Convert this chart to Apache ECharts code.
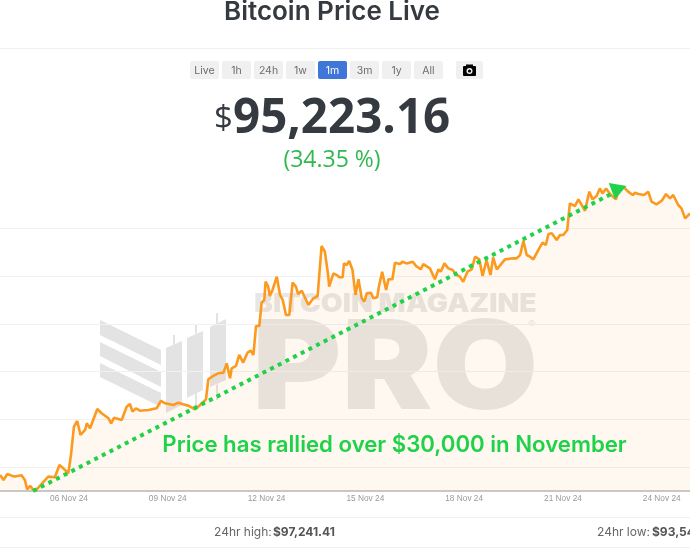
<!DOCTYPE html>
<html>
<head>
<meta charset="utf-8">
<title>Bitcoin Price Live</title>
<style>
html, body { margin: 0; padding: 0; background: #fff; }
#chartBox { width: 690px; height: 550px; }
</style>
<script src="https://cdn.jsdelivr.net/npm/echarts@6/dist/echarts.min.js"></script>
</head>
<body>
<div id="chartBox"></div>
<script>
// days of November 2024 (fractional) and BTC price
var priceDays = [3.91, 3.96, 4.01, 4.13, 4.26, 4.36, 4.56, 4.66, 4.73, 4.82, 4.92, 5.02, 5.17, 5.37, 5.57, 5.71, 5.83, 5.98, 6.06, 6.15, 6.25, 6.35, 6.49, 6.54, 6.64, 6.86, 6.99, 7.20, 7.28, 7.37, 7.60, 7.75, 7.85, 7.93, 8.03, 8.16, 8.41, 8.66, 8.79, 8.92, 9.17, 9.32, 9.47, 9.62, 9.83, 9.98, 10.16, 10.23, 10.38, 10.53, 10.69, 10.79, 10.89,
    10.94, 11.07, 11.17, 11.29, 11.42, 11.52, 11.60, 11.68, 11.78, 11.85, 11.93, 11.97, 12.05, 12.10, 12.18, 12.31, 12.41, 12.49, 12.59, 12.69, 12.79, 12.89, 12.96, 13.07, 13.27, 13.42, 13.55, 13.67, 13.77, 13.87, 13.90, 14.03, 14.13, 14.21, 14.31, 14.35, 14.43, 14.51, 14.61, 14.70, 14.79, 14.89, 14.97, 15.04, 15.17, 15.24, 15.36, 15.41, 15.51, 15.63, 15.70, 15.82, 15.90, 16.05, 16.12, 16.25, 16.44, 16.54, 16.68, 16.76, 16.96, 17.11, 17.22, 17.29, 17.40, 17.52, 17.65, 17.77,
    17.87, 17.97, 18.10, 18.23, 18.33, 18.46, 18.56, 18.68, 18.73, 18.80, 18.88, 18.99, 19.24, 19.49, 19.59, 19.70, 19.80, 19.90, 20.00, 20.10, 20.25, 20.38, 20.48, 20.56, 20.66, 20.81, 20.91, 21.01, 21.13, 21.21, 21.36, 21.47, 21.67, 21.80, 21.90, 22.02, 22.12, 22.20, 22.31, 22.43, 22.61, 22.68, 22.83, 22.98, 23.12, 23.19, 23.29, 23.34, 23.46, 23.59, 23.69, 23.84, 24.00, 24.13, 24.25, 24.35, 24.50, 24.60, 24.71, 24.86];
var priceValues = [69160, 69230, 68640, 69270, 69090, 68990, 69130, 68640, 67660, 68010, 67590, 67660, 68220, 68990, 68920, 70210, 69860, 69340, 71260, 74230, 74820, 73360, 73880, 74580, 74050, 76080, 75630, 75100, 74580, 75170, 74930, 76320, 76600, 75800, 76150, 75900, 75970, 76150, 76920, 76670, 76500, 76740, 76570, 76430, 76040, 76500, 77090, 79190, 79540, 79820, 79890, 80860, 79290,
    80340, 80590, 81740, 80940, 81980, 82190, 81740, 84780, 84780, 87220, 87500, 89420, 88900, 87920, 88550, 89950, 88030, 87500, 85930, 85930, 89320, 88900, 88130, 88480, 86980, 87680, 87920, 93160, 92570, 90120, 88900, 90300, 90120, 89880, 89880, 91350, 91170, 91590, 90650, 88030, 89670, 87680, 87330, 88200, 88270, 87680, 87780, 88900, 90470, 88550, 89670, 89670, 91410, 91270, 91520, 91340, 91520, 91060, 90720, 91270, 90820, 89670, 90720, 90470, 91340, 90820, 90650, 90120,
    89950, 89420, 90470, 90720, 92040, 91760, 90020, 91700, 91700, 90120, 91970, 90720, 91760, 91870, 91870, 92220, 93720, 92220, 92040, 91760, 92740, 93510, 93270, 94420, 94490, 93790, 94310, 94310, 94840, 97630, 97350, 98050, 96860, 98860, 98050, 98400, 99200, 98680, 99200, 98610, 98050, 98860, 99380, 98860, 98510, 98750, 98610, 98750, 98510, 98860, 97810, 97530, 97910, 98610, 98160, 98510, 97460, 97110, 96060, 96580];
var arrowDays = [4.91, 22.58];
var arrowPrices = [67480, 98820];
var arrowHead = [22.62, 98830];
var dayTicks = [6, 9, 12, 15, 18, 21, 24];
var priceTicks = [70000, 75000, 80000, 85000, 90000, 95000];
var ranges = ['Live', '1h', '24h', '1w', '1m', '3m', '1y', 'All'];
var activeRange = '1m';

var uiFont = 'Inter, sans-serif';
var priceFont = '"Open Sans", sans-serif';
var wm = '#3c3c3c';

function pad2(n) {
    return n < 10 ? '0' + n : '' + n;
}

function poly(points, opacity) {
    return {
        type: 'polygon',
        shape: {points: points},
        style: {fill: wm, opacity: opacity || 0.14},
        silent: true
    };
}

function hline(y) {
    return {
        type: 'line',
        shape: {x1: 0, y1: y, x2: 690, y2: y},
        style: {stroke: '#f1f1f1', lineWidth: 1},
        silent: true
    };
}

function buildGraphic() {
    var g = [];
    // page chrome
    g.push({type: 'text', x: 332, y: 12.5, style: {text: 'Bitcoin Price Live', font: '600 26px ' + uiFont, fill: '#343a40', textAlign: 'center', textVerticalAlign: 'middle'}});
    g.push(hline(48.5));
    g.push(hline(517.5));
    g.push(hline(547.5));

    // range buttons
    for (var i = 0; i < ranges.length; i++) {
        var bx = 190 + i * 32;
        var on = ranges[i] == activeRange;
        g.push({type: 'rect', shape: {x: bx, y: 61, width: 29, height: 18, r: 2}, style: {fill: on ? '#3f76d8' : '#f0f0f0'}});
        g.push({type: 'text', x: bx + 14.5, y: 70.5, style: {text: ranges[i], font: '400 10.5px ' + uiFont, fill: on ? '#fff' : '#6c6c6c', textAlign: 'center', textVerticalAlign: 'middle'}});
    }
    // camera button
    g.push({type: 'rect', shape: {x: 456, y: 61, width: 27, height: 18, r: 2}, style: {fill: '#f0f0f0'}});
    g.push({type: 'rect', shape: {x: 463, y: 66, width: 13, height: 10, r: 1}, style: {fill: '#000'}});
    g.push({type: 'rect', shape: {x: 466, y: 64.5, width: 7, height: 3}, style: {fill: '#000'}});
    g.push({type: 'circle', shape: {cx: 469.5, cy: 71, r: 3}, style: {fill: '#f0f0f0'}});
    g.push({type: 'circle', shape: {cx: 469.5, cy: 71, r: 1.6}, style: {fill: '#000'}});

    // headline price
    g.push({type: 'text', x: 214, y: 119.5, style: {text: '$', font: '400 33px ' + priceFont, fill: '#343a40', textVerticalAlign: 'middle'}});
    g.push({type: 'text', x: 233, y: 119.5, style: {text: '95,223.16', font: '700 47.5px ' + priceFont, fill: '#343a40', textVerticalAlign: 'middle'}});
    g.push({type: 'text', x: 332, y: 160, style: {text: '(34.35 %)', font: '400 23px ' + priceFont, fill: '#2fb84f', textAlign: 'center', textVerticalAlign: 'middle'}});

    // watermark
    g.push(poly([[100, 320], [161, 350], [161, 365], [100, 335]]));
    g.push(poly([[100, 342], [161, 372], [161, 387], [100, 356]]));
    g.push(poly([[100, 363], [161, 393], [161, 407], [100, 377]]));
    g.push(poly([[166, 348], [182, 341], [182, 405], [166, 413]]));
    g.push(poly([[173, 335], [175, 335], [175, 344], [173, 345]]));
    g.push(poly([[187, 338], [203, 331], [203, 390], [187, 398]]));
    g.push(poly([[195, 324], [197, 324], [197, 333], [195, 334]]));
    g.push(poly([[195, 394], [197, 393], [197, 405], [195, 405]]));
    g.push(poly([[210, 327], [226, 319], [226, 380], [210, 387]]));
    g.push(poly([[216, 313], [218, 313], [218, 323], [216, 324]]));
    g.push(poly([[216, 385], [218, 384], [218, 400], [216, 400]]));
    g.push({type: 'text', x: 254, y: 304, scaleX: 1.09, style: {text: 'BITCOIN MAGAZINE', font: '900 26px ' + uiFont, fill: wm, opacity: 0.12, textVerticalAlign: 'middle'}});
    g.push({type: 'text', x: 252, y: 372, scaleX: 1.1, style: {text: 'PRO', font: '900 124px ' + uiFont, fill: wm, opacity: 0.12, textVerticalAlign: 'middle'}});
    g.push({type: 'text', x: 528, y: 325, style: {text: '®', font: '400 11px ' + uiFont, fill: wm, opacity: 0.12, textVerticalAlign: 'middle'}});

    // annotation
    g.push({type: 'text', x: 394.5, y: 445, z: 20, style: {text: 'Price has rallied over $30,000 in November', font: '600 22.2px ' + uiFont, fill: '#1fd249', textAlign: 'center', textVerticalAlign: 'middle'}});

    // 24h stats
    g.push({type: 'text', x: 214, y: 532, style: {text: '24hr high: ', font: '400 12px ' + uiFont, fill: '#666', textVerticalAlign: 'middle'}});
    g.push({type: 'text', x: 273, y: 532, style: {text: '$97,241.41', font: '700 12px ' + uiFont, fill: '#555', textVerticalAlign: 'middle'}});
    g.push({type: 'text', x: 597, y: 532, style: {text: '24hr low: ', font: '400 12px ' + uiFont, fill: '#666', textVerticalAlign: 'middle'}});
    g.push({type: 'text', x: 652, y: 532, style: {text: '$93,54', font: '700 12px ' + uiFont, fill: '#555', textVerticalAlign: 'middle'}});
    return g;
}

var priceData = [];
for (var i = 0; i < priceDays.length; i++) {
    priceData.push([priceDays[i], priceValues[i]]);
}
var arrowData = [];
for (var j = 0; j < arrowDays.length; j++) {
    arrowData.push([arrowDays[j], arrowPrices[j]]);
}

var myChart = echarts.init(document.getElementById('chartBox'), null, {renderer: 'canvas'});
var option = {
    animation: false,
    graphic: {elements: buildGraphic()},
    grid: {left: 0, right: 0, top: 170, bottom: 59},
    xAxis: {
        type: 'value',
        min: 3.905,
        max: 24.858,
        axisLine: {onZero: false, lineStyle: {color: '#c9c9c9', width: 2}},
        axisTick: {show: false, customValues: dayTicks},
        splitLine: {show: false},
        axisLabel: {
            customValues: dayTicks,
            color: '#999999',
            fontFamily: 'Liberation Sans',
            fontSize: 8.3,
            margin: 4,
            formatter: function (v) {
                return pad2(v) + ' Nov 24';
            }
        }
    },
    yAxis: {
        type: 'value',
        min: 67480,
        max: 101130,
        axisLine: {show: false},
        axisTick: {show: false, customValues: priceTicks},
        axisLabel: {show: false, customValues: priceTicks},
        splitLine: {show: true, lineStyle: {color: '#f1f1f1', width: 1}}
    },
    series: [
        {
            name: 'Price',
            type: 'line',
            data: priceData,
            showSymbol: false,
            symbol: 'none',
            lineStyle: {color: '#fb9a1e', width: 2.6},
            areaStyle: {color: 'rgba(247,150,20,0.09)'},
            z: 3
        },
        {
            name: 'Trend',
            type: 'line',
            data: arrowData,
            showSymbol: false,
            symbol: 'none',
            lineStyle: {color: '#1fd249', width: 4, type: [4, 4.6]},
            z: 4
        },
        {
            name: 'Arrow',
            type: 'scatter',
            data: [arrowHead],
            symbol: 'triangle',
            symbolSize: [18, 15],
            symbolRotate: 170,
            itemStyle: {color: '#1fd249', opacity: 1},
            z: 5
        }
    ]
};
myChart.setOption(option);
</script>
</body>
</html>
